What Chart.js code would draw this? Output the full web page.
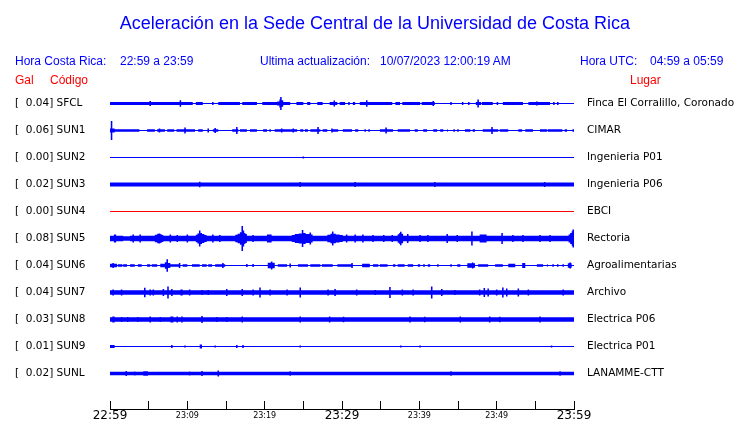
<!DOCTYPE html>
<html lang="es">
<head>
<meta charset="utf-8">
<title>Aceleración – Sede Central UCR</title>
<script src="https://cdn.jsdelivr.net/npm/chart.js@4.4.1/dist/chart.umd.min.js"></script>
<style>
  html, body { margin: 0; padding: 0; background: #fff; }
  #wrap { position: relative; width: 740px; height: 423px; overflow: hidden; }
  #wrap canvas { position: absolute; left: 0; top: 0; }
  .txt { position: absolute; white-space: pre; font-family: "Liberation Sans", Arial, sans-serif;
         font-size: 12px; line-height: 14px; color: #0000ff; }
  .red { color: #ff0000; }
  #title { left: 0; width: 750px; text-align: center; top: 13px; font-size: 18px; line-height: 20px; }
</style>
</head>
<body>
<div id="wrap">
  <canvas id="chart" width="740" height="423"></canvas>
  <div class="txt" id="title">Aceleración en la Sede Central de la Universidad de Costa Rica</div>
  <div class="txt" style="left:15px;top:54px">Hora Costa Rica:</div>
  <div class="txt" style="left:120px;top:54px">22:59 a 23:59</div>
  <div class="txt" style="left:260px;top:54px">Ultima actualización:</div>
  <div class="txt" style="left:380px;top:54px">10/07/2023 12:00:19 AM</div>
  <div class="txt" style="left:580px;top:54px">Hora UTC:</div>
  <div class="txt" style="left:650px;top:54px">04:59 a 05:59</div>
  <div class="txt red" style="left:15px;top:73px">Gal</div>
  <div class="txt red" style="left:50px;top:73px">Código</div>
  <div class="txt red" style="left:630px;top:73px">Lugar</div>
</div>
<script>
'use strict';

// ── Stations ──────────────────────────────────
const CODES  = ['SFCL', 'SUN1', 'SUN2', 'SUN3', 'SUN4', 'SUN5', 'SUN6', 'SUN7', 'SUN8', 'SUN9', 'SUNL'];
const PLACES = ['Finca El Corralillo, Coronado', 'CIMAR', 'Ingenieria P01', 'Ingenieria P06', 'EBCI',
                'Rectoria', 'Agroalimentarias', 'Archivo', 'Electrica P06', 'Electrica P01', 'LANAMME-CTT'];
const PEAK_GAL = [0.04, 0.06, 0.00, 0.02, 0.00, 0.08, 0.04, 0.04, 0.03, 0.01, 0.02];

// ── Time axis (minutes after 22:59) ───────────
const TICK_MIN    = [0, 5, 10, 15, 20, 25, 30, 35, 40, 45, 50, 55, 60];
const TICK_LABELS = ['22:59', '', '23:09', '', '23:19', '', '23:29', '', '23:39', '', '23:49', '', '23:59'];
const BIG_LABELS  = ['22:59', '23:29', '23:59'];

// ── Envelopes: [minute, half amplitude in Gal], value holds until next node ──
const ENV_SFCL = [[0,.009],[5.1,.016],[5.3,.009],[9.0,.021],[9.2,.009],[10.7,0],[11.1,.009],[12.0,0],[13.2,.009],[13.4,0],
  [14.0,.009],[16.8,0],[17.1,.009],[19.0,0],[19.7,.009],[21.6,.013],[21.9,.025],[22.0,.041],[22.2,.02],[22.4,.009],[23.3,0],
  [24.1,.009],[25.0,0],[25.5,.009],[25.9,0],[26.8,.009],[27.5,0],[28.4,.009],[28.9,.019],[29.1,.009],[29.4,0],
  [29.7,.009],[30.4,0],[30.8,.009],[31.0,0],[31.4,.009],[31.7,0],[32.3,.009],[33.1,.021],[33.3,.009],[36.5,0],
  [36.9,.009],[37.5,0],[37.8,.009],[40.1,0],[40.3,.009],[41.7,.016],[41.9,.009],[42.0,0],[44.0,.009],[44.2,0],
  [45.5,.009],[45.7,0],[46.3,.009],[46.5,0],[47.3,.009],[47.5,.025],[47.7,.009],[48.0,0],[48.1,.009],[49.5,0],
  [50.0,.009],[50.2,0],[50.8,.009],[53.4,0],[54.1,.009],[55.1,.013],[55.3,.009],[56.9,0],[57.3,.009],[57.5,0],
  [57.8,.009],[58.0,0],[60,0]];
const ENV_SUN1 = [[0,.013],[0.1,.06],[0.3,.013],[0.6,.008],[3.8,0],[4.8,.008],[5.8,0],[6.1,.008],[6.3,.013],[6.5,.008],
  [7.1,0],[7.4,.008],[8.3,0],[8.6,.008],[9.6,.019],[9.8,.008],[11.0,0],[11.4,.008],[12.0,0],[12.6,.013],[12.8,0],
  [13.3,.008],[13.5,.016],[13.7,.008],[14.0,0],[15.8,.008],[16.3,.022],[16.5,.008],[16.6,0],[16.8,.008],[17.7,0],
  [18.1,.008],[19.0,0],[19.8,.008],[20.3,0],[20.6,.008],[20.8,0],[21.3,.008],[22.1,.013],[22.3,.008],[23.6,.013],
  [23.8,.008],[24.2,0],[24.6,.008],[25.0,0],[25.2,.008],[25.6,0],[25.9,.008],[26.8,.022],[27.0,.008],[27.2,0],
  [27.5,.008],[28.1,0],[28.6,.013],[28.8,.008],[29.5,0],[30.1,.008],[31.3,0],[31.7,.008],[32.1,0],[32.9,.008],
  [33.1,0],[33.4,.008],[33.6,0],[34.9,.008],[35.6,.019],[35.8,.008],[36.6,0],[37.2,.008],[38.8,0],[39.4,.008],
  [39.8,0],[40.5,.008],[41.0,0],[41.8,.008],[42.3,0],[42.7,.008],[43.1,0],[43.6,.008],[43.7,0],[44.4,.008],
  [44.6,0],[44.9,.008],[45.1,0],[45.9,.008],[46.6,0],[46.9,.008],[47.2,0],[48.2,.008],[49.3,.022],[49.5,.008],
  [50.2,0],[50.4,.008],[51.5,0],[52.8,.008],[53.3,0],[53.7,.008],[54.7,0],[55.6,.008],[56.5,0],[56.6,.008],
  [58.5,0],[58.8,.008],[59.1,0],[59.8,.008],[60,.008]];
const ENV_SUN2 = [[0,0],[24.9,.006],[25.1,0],[60,0]];
const ENV_SUN3 = [[0,.012],[11.5,.017],[11.7,.012],[24.5,.016],[24.7,.012],[31.6,.016],[31.8,.012],[41.9,.016],
  [42.1,.012],[56.1,.016],[56.3,.012],[60,.012]];
const ENV_SUN4 = [[0,0],[60,0]];
const ENV_SUN5 = [[0,.017],[0.5,.025],[0.8,.017],[1.7,.014],[2.6,.018],[2.9,.025],[3.1,.018],[3.8,.025],[4.0,.018],
  [5.8,.024],[6.1,.03],[6.3,.032],[6.5,.027],[6.7,.022],[6.9,.018],[7.7,.025],[7.9,.018],[8.6,.022],[8.8,.018],
  [9.9,.025],[10.1,.018],[11.1,.024],[11.3,.032],[11.5,.05],[11.7,.035],[11.9,.028],[12.2,.022],[12.5,.018],
  [13.2,.025],[13.4,.018],[14.1,.022],[14.3,.018],[16.2,.024],[16.5,.03],[16.8,.04],[17.0,.079],[17.2,.05],
  [17.35,.035],[17.5,.028],[17.7,.018],[18.4,.022],[18.6,.018],[20.3,.025],[20.9,.018],[23.5,.022],[23.9,.028],
  [24.4,.032],[24.8,.054],[25.0,.035],[25.3,.028],[25.8,.038],[26.0,.025],[26.2,.018],[28.1,.024],[28.5,.03],
  [28.7,.044],[28.9,.03],[29.2,.025],[29.7,.022],[30.1,.018],[30.5,.025],[30.7,.018],[31.6,.025],[31.8,.018],
  [32.6,.025],[32.8,.018],[33.9,.022],[34.1,.018],[35.3,.022],[35.5,.018],[36.4,.022],[36.6,.018],[37.2,.026],
  [37.4,.035],[37.5,.042],[37.7,.03],[37.9,.018],[38.4,.028],[38.6,.018],[40.0,.022],[40.2,.018],[41.0,.022],
  [41.2,.018],[43.5,.028],[43.7,.018],[44.8,.022],[45.0,.018],[46.7,.044],[46.9,.018],[47.8,.025],[48.7,.018],
  [50.6,.035],[50.8,.018],[52.0,.022],[52.2,.018],[53.3,.022],[53.5,.018],[55.5,.022],[55.7,.018],[56.8,.022],
  [57.0,.018],[59.3,.025],[59.5,.035],[59.7,.045],[59.8,.057],[60,.057]];
const ENV_SUN6 = [[0,.011],[0.3,.016],[0.5,.011],[0.9,0],[1.0,.008],[1.6,0],[1.7,.008],[2.2,0],[2.6,.008],[3.2,0],
  [3.6,.008],[4.1,0],[4.8,.008],[5.2,0],[5.4,.008],[6.1,0],[6.5,.011],[7.1,.02],[7.3,.04],[7.5,.016],[7.8,.008],[8.9,.016],
  [9.1,0],[9.4,.008],[10.0,0],[10.6,.008],[11.6,0],[11.9,.008],[12.5,0],[12.7,.008],[13.2,0],[13.6,.008],[14.5,.016],
  [14.7,.008],[14.9,0],[17.6,.009],[17.8,0],[18.4,.009],[18.6,0],[20.4,.018],[20.8,.025],[21.0,.018],[21.3,0],
  [21.7,.008],[22.9,0],[23.2,.013],[23.4,0],[24.3,.008],[25.6,0],[25.9,.008],[27.2,0],[27.4,.008],[28.8,0],
  [29.4,.008],[31.2,.016],[31.4,0],[32.6,.011],[33.6,0],[34.0,.008],[34.7,0],[34.9,.008],[35.9,0],[36.6,.008],
  [36.9,0],[37.2,.008],[38.1,0],[38.5,.008],[39.2,0],[39.8,.008],[40.1,0],[40.5,.008],[40.7,0],[41.1,.008],
  [41.4,0],[42.3,.008],[42.5,0],[44.0,.008],[44.2,0],[44.9,.008],[45.3,0],[46.2,.014],[46.8,.019],[47.0,.014],
  [47.2,0],[47.6,.008],[48.9,0],[49.8,.008],[50.8,0],[51.5,.011],[52.4,0],[53.3,.016],[53.7,0],[55.2,.008],
  [56.0,0],[56.5,.008],[56.6,0],[57.2,.008],[57.4,0],[57.8,.008],[58.0,0],[58.5,.008],[58.7,0],[59.2,.014],
  [59.4,.019],[59.6,.014],[59.7,0],[60,0]];
const ENV_SUN7 = [[0,.014],[0.3,.019],[0.5,.014],[1.4,.019],[1.6,.014],[4.4,.03],[4.6,.014],[5.1,.019],[5.3,.014],
  [5.5,.019],[5.7,.014],[6.8,.022],[7.0,.014],[7.4,.038],[7.6,.014],[7.9,.022],[8.1,.014],[9.1,.019],[9.4,.014],
  [10.2,.019],[10.4,.014],[11.8,.016],[12.0,.014],[12.6,.016],[12.8,.014],[15.0,.022],[15.2,.014],[17.0,.022],
  [17.2,.014],[18.4,.019],[18.6,.014],[19.3,.032],[19.5,.014],[20.6,.019],[20.8,.014],[22.8,.019],[23.0,.014],
  [24.5,.032],[24.7,.014],[28.1,.019],[28.3,.014],[29.0,.022],[29.2,.014],[31.8,.019],[32.0,.014],[34.2,.016],
  [34.4,.014],[36.1,.035],[36.3,.014],[37.7,.019],[37.9,.014],[39.1,.019],[39.3,.014],[41.5,.038],[41.7,.014],
  [42.8,.022],[43.0,.014],[44.5,.016],[44.7,.014],[47.7,.019],[47.9,.014],[48.3,.028],[48.5,.014],[48.8,.025],
  [49.0,.014],[49.9,.019],[50.1,.014],[50.7,.032],[50.9,.014],[51.2,.025],[51.4,.014],[52.7,.025],[52.9,.014],
  [54.0,.019],[54.2,.014],[58.5,.019],[58.7,.014],[60,.014]];
const ENV_SUN8 = [[0,.014],[0.3,.019],[0.6,.014],[1.4,.016],[1.6,.014],[2.2,.016],[2.4,.014],[3.5,.016],[3.7,.014],
  [5.1,.019],[5.3,.014],[6.4,.016],[6.6,.014],[7.8,.019],[8.2,.014],[8.6,.019],[8.8,.014],[9.2,.019],[9.4,.014],
  [11.8,.022],[12.0,.014],[13.7,.016],[13.9,.014],[15.0,.016],[15.2,.014],[17.0,.019],[17.2,.014],[24.5,.019],
  [24.7,.014],[28.3,.019],[28.5,.014],[30.1,.017],[30.3,.014],[38.7,.019],[38.9,.014],[40.6,.017],[40.8,.014],
  [45.2,.019],[45.4,.014],[49.0,.019],[49.2,.014],[50.3,.017],[50.5,.014],[55.5,.019],[55.7,.014],[60,.014]];
const ENV_SUN9 = [[0,.009],[0.6,0],[7.9,.009],[8.1,0],[9.6,.006],[9.8,0],[11.6,.013],[11.9,0],[13.5,.006],[13.7,0],
  [16.3,.009],[16.5,0],[17.1,.009],[17.3,0],[24.5,.006],[24.7,0],[37.5,.006],[37.7,0],[40.0,.006],[40.2,0],
  [57.0,.006],[57.2,0],[60,0]];
const ENV_SUNL = [[0,.011],[2.0,.016],[2.2,.011],[3.1,.013],[3.3,.011],[4.3,.014],[4.9,.011],[10.2,.013],[10.4,.011],
  [11.8,.016],[12.0,.011],[13.9,.019],[14.1,.011],[23.2,.014],[23.4,.011],[44.0,.014],[44.2,.011],[58.1,.014],
  [58.3,.011],[60,.011]];

const ENVELOPES = [ENV_SFCL, ENV_SUN1, ENV_SUN2, ENV_SUN3, ENV_SUN4, ENV_SUN5,
                   ENV_SUN6, ENV_SUN7, ENV_SUN8, ENV_SUN9, ENV_SUNL];

// ── Layout ────────────────────────────────────
const BLUE = '#0000ff';
const RED  = '#ff0000';
const NONE = 'rgba(0,0,0,0)';
const LANE = 0.17;                       // Gal between two trace baselines
const yMax = LANE * 0.5;
const yMin = yMax - LANE * 319 / 27;     // 319px plot height, 27px per lane

const laneValue = i => -i * LANE;
const laneTicks = s => { s.ticks = CODES.map((_, i) => ({ value: laneValue(i) })); };
const labelFont = { family: 'DejaVu Sans', size: 10.5 };

// ── Datasets ──────────────────────────────────
const datasets = [];
CODES.forEach((code, i) => {
  const c = laneValue(i);
  const color = code === 'SUN4' ? RED : BLUE;
  const env = ENVELOPES[i];
  const band = {
    borderWidth: 0, borderColor: NONE, pointRadius: 0, stepped: true,
    backgroundColor: color, fill: { value: c }
  };
  datasets.push({ ...band, label: code + ' max', data: env.map(([t, a]) => ({ x: t, y: c + a })) });
  datasets.push({ ...band, label: code + ' min', data: env.map(([t, a]) => ({ x: t, y: c - a })) });
  datasets.push({
    label: code, data: [{ x: 0, y: c }, { x: 60, y: c }],
    borderColor: color, backgroundColor: color, borderWidth: 1, pointRadius: 0, fill: false
  });
});

// ── Chart ─────────────────────────────────────
new Chart(document.getElementById('chart'), {
  type: 'line',
  data: { datasets },
  options: {
    responsive: false,
    animation: false,
    events: [],
    layout: { padding: { top: 90, left: 15, right: 0, bottom: 0 } },
    plugins: { legend: { display: false }, tooltip: { enabled: false } },
    scales: {
      x: {
        type: 'linear', min: 0, max: 60,
        afterBuildTicks: s => { s.ticks = TICK_MIN.map(v => ({ value: v })); },
        afterFit: s => { s.height = 14; },
        grid: { display: true, drawOnChartArea: false, drawTicks: true, tickLength: -8, color: '#000', lineWidth: 1 },
        border: { display: true, color: '#000', width: 1 },
        ticks: {
          autoSkip: false, maxRotation: 0, padding: 7, color: '#000',
          callback: (v, i) => TICK_LABELS[i],
          font: ctx => ({
            family: 'DejaVu Sans',
            size: BIG_LABELS.includes(TICK_LABELS[ctx.index]) ? 12 : 8,
            lineHeight: '16px'
          })
        }
      },
      y: {
        type: 'linear', position: 'left', min: yMin, max: yMax,
        afterBuildTicks: laneTicks,
        afterFit: s => { s.width = 95; },
        grid: { display: false, drawTicks: false }, border: { display: false },
        ticks: {
          autoSkip: false, crossAlign: 'far', padding: 0, color: '#000', font: labelFont,
          callback: (v, i) => `[${PEAK_GAL[i].toFixed(2).padStart(6)}] ${CODES[i]}`
        }
      },
      y2: {
        type: 'linear', position: 'right', display: true, min: yMin, max: yMax,
        afterBuildTicks: laneTicks,
        afterFit: s => { s.width = 166; },
        grid: { display: false, drawTicks: true, tickLength: 13 }, border: { display: false },
        ticks: {
          autoSkip: false, padding: 0, color: '#000', font: labelFont,
          callback: (v, i) => PLACES[i]
        }
      }
    }
  }
});
</script>
</body>
</html>
